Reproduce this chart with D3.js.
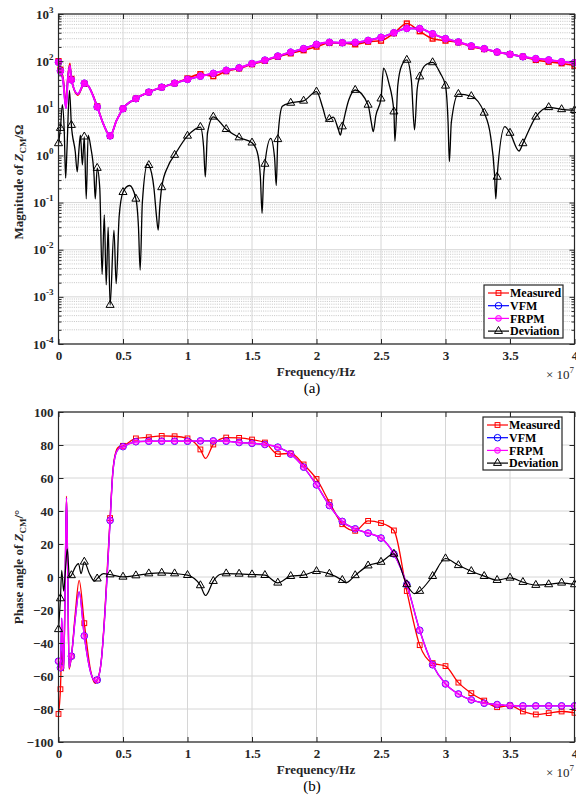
<!DOCTYPE html>
<html>
<head>
<meta charset="utf-8">
<script src="https://cdn.jsdelivr.net/npm/d3@7"></script>
<style>
  body { margin: 0; background: #fff; }
  svg text { font-family: "Liberation Serif", "Times New Roman", serif; }
</style>
</head>
<body>
<svg id="chart"></svg>
<script>
// frequency in MHz (axis shows x 10^7 Hz)
const xTicks = [0, 5, 10, 15, 20, 25, 30, 35, 40];
const xTickLabels = ['0', '0.5', '1', '1.5', '2', '2.5', '3', '3.5', '4'];
const magExponents = [-4, -3, -2, -1, 0, 1, 2, 3];
const phaseTicks = [-100, -80, -60, -40, -20, 0, 20, 40, 60, 80, 100];
const markerFreqs = [0, 0.15, 1, 2, 3, 4, 5, 6, 7, 8, 9, 10, 11, 12, 13, 14, 15, 16, 17, 18, 19, 20,
  21, 22, 23, 24, 25, 26, 27, 28, 29, 30, 31, 32, 33, 34, 35, 36, 37, 38, 39, 40];

// (a) magnitude, ohm
const magMeasured = [[0, 100], [0.15, 66], [0.35, 45], [0.58, 13], [0.72, 45], [0.88, 90], [1, 42], [1.5, 19],
  [2, 33], [2.3, 30], [3, 11], [3.5, 4.5], [4, 2.6], [4.5, 5.5], [5, 9.8], [6, 16], [7, 22], [8, 28], [9, 34],
  [10, 43], [11, 53], [12, 48], [13, 61], [14, 70], [15, 86], [16, 102], [17, 124], [18, 146], [19, 170],
  [20, 203], [21, 243], [22, 243], [23, 227], [24, 258], [25, 271], [26, 390], [27, 630], [28, 430], [29, 300],
  [30, 272], [31, 250], [32, 203], [33, 180], [34, 155], [35, 140], [36, 124], [37, 106], [38, 97], [39, 90], [40, 80]];
const magVFM = [[0, 95], [0.15, 62], [0.35, 40], [0.58, 10], [0.72, 40], [0.88, 80], [1, 40], [1.5, 20],
  [2, 34], [2.3, 30], [3, 10.7], [3.5, 4.5], [4, 2.6], [4.5, 5.5], [5, 9.8], [6, 16], [7, 22], [8, 28], [9, 34],
  [10, 41], [11, 48], [12, 55], [13, 64], [14, 72], [15, 89], [16, 105], [17, 128], [18, 155], [19, 184],
  [20, 227], [21, 251], [22, 246], [23, 250], [24, 275], [25, 320], [26, 400], [27, 495], [28, 490], [29, 380],
  [30, 300], [31, 255], [32, 210], [33, 184], [34, 156], [35, 140], [36, 124], [37, 113], [38, 106], [39, 97], [40, 93]];
const magFRPM = [[0, 95], [0.15, 62], [0.35, 40], [0.58, 10], [0.72, 40], [0.88, 80], [1, 40], [1.5, 20],
  [2, 34], [2.3, 30], [3, 10.7], [3.5, 4.5], [4, 2.6], [4.5, 5.5], [5, 9.8], [6, 16], [7, 22], [8, 28], [9, 34],
  [10, 41], [11, 48], [12, 55], [13, 64], [14, 72], [15, 89], [16, 105], [17, 128], [18, 155], [19, 184],
  [20, 227], [21, 251], [22, 246], [23, 250], [24, 275], [25, 320], [26, 400], [27, 495], [28, 490], [29, 380],
  [30, 300], [31, 255], [32, 210], [33, 184], [34, 156], [35, 140], [36, 124], [37, 113], [38, 106], [39, 97], [40, 93]];
const magDeviation = [[0, 1.8], [0.15, 3.8], [0.3, 12], [0.45, 3], [0.55, 0.33], [0.65, 1.2], [0.85, 24], [1, 4.4],
  [1.3, 1.2], [1.45, 0.45], [1.6, 1.5], [1.7, 2.7], [1.85, 0.63], [2, 2.5], [2.15, 0.12], [2.3, 2.7], [2.5, 1.5],
  [2.75, 0.4], [2.85, 0.12], [3, 0.54], [3.2, 0.2], [3.38, 0.003], [3.55, 0.055], [3.7, 0.0018], [3.85, 0.03],
  [4, 0.00067], [4.3, 0.026], [4.47, 0.0019], [4.7, 0.05], [5, 0.166], [5.5, 0.23], [6, 0.12], [6.2, 0.03],
  [6.33, 0.0037], [6.5, 0.1], [6.9, 0.65], [7, 0.62], [7.4, 0.2], [7.6, 0.05], [7.73, 0.026], [7.85, 0.08],
  [8, 0.21], [8.5, 0.6], [9, 1.02], [10, 2.6], [11, 4.0], [11.25, 1.5], [11.38, 0.35], [11.55, 3], [12, 6.6],
  [13, 3.6], [14, 2.4], [15, 1.86], [15.4, 1.2], [15.65, 0.35], [15.78, 0.059], [15.9, 0.35], [16, 0.66],
  [16.45, 2.3], [16.75, 0.9], [16.88, 0.23], [17, 2.2], [17.35, 11], [18, 13], [19, 14.4], [20, 22.5],
  [20.5, 10], [20.8, 5.6], [21, 5.9], [21.3, 6.5], [21.7, 3.5], [21.85, 2.7], [22, 4.1], [22.5, 15], [23, 24.4],
  [24, 11.8], [24.25, 5], [24.4, 3.2], [24.6, 7], [25, 16], [25.2, 71], [25.6, 35], [26, 8.5], [26.08, 2],
  [26.3, 30], [26.6, 80], [27, 106], [27.35, 40], [27.6, 3.5], [27.8, 25], [28, 47], [28.5, 85], [29, 94],
  [29.6, 55], [30, 30], [30.2, 5], [30.3, 0.74], [30.45, 5], [31, 20], [32, 18], [33, 8], [33.5, 2.5],
  [33.8, 0.4], [33.9, 0.12], [34, 0.35], [34.6, 4.1], [35, 3.0], [35.7, 1.24], [36, 1.8], [37, 6.6],
  [38, 10.5], [39, 9.5], [40, 9.1]];

// (b) phase angle, degree
const phMeasured = [[0, -83], [0.15, -68], [0.25, -45], [0.4, -57], [0.52, 0], [0.62, 49], [0.72, 0], [0.82, -56],
  [1, -48], [1.3, -22], [1.6, -2], [2, -28], [2.5, -57], [2.85, -64.5], [3, -62.4], [3.3, -52], [3.6, -20],
  [3.8, 8], [4, 35.7], [4.2, 63], [4.45, 76], [4.7, 79], [5, 79.5], [6, 84], [7, 84.7], [8, 85.5], [9, 85.3],
  [10, 84], [11, 77.3], [11.4, 71.9], [12, 80.3], [13, 84.5], [14, 84.3], [15, 83.3], [16, 81.5], [17, 74.5],
  [18, 74.9], [19, 68.2], [20, 59.4], [21, 45.3], [22, 32], [23, 28], [24, 34], [25, 32.7], [26, 28.2],
  [27, -8.5], [28, -41.3], [29, -52.2], [30, -54], [31, -64], [32, -70.4], [33, -74.9], [34, -78.9],
  [35, -77.9], [36, -81.5], [37, -83.3], [38, -82.5], [39, -81.5], [40, -82.3]];
const phVFM = [[0, -51], [0.15, -55], [0.25, -25], [0.4, -56], [0.52, 0], [0.62, 48], [0.72, 0], [0.82, -55],
  [1, -48], [1.3, -25], [1.6, -9], [2, -35.7], [2.5, -58], [2.85, -63], [3, -62.4], [3.3, -52], [3.6, -22],
  [3.8, 5], [4, 34.3], [4.2, 62], [4.45, 75], [4.7, 78], [5, 79], [6, 82], [7, 82.3], [8, 82.3], [9, 82.3],
  [10, 82.3], [11, 82.5], [12, 82.5], [13, 82.3], [14, 81.5], [15, 81], [16, 80.3], [17, 78.7], [18, 74.5],
  [19, 66.6], [20, 55.8], [21, 43.3], [22, 33.7], [23, 29.2], [24, 26.6], [25, 23.6], [26, 14], [27, -4.5],
  [28, -32.3], [29, -53.2], [30, -64.8], [31, -70.9], [32, -74.5], [33, -76.5], [34, -77.3], [35, -77.9],
  [36, -78.1], [37, -78.1], [38, -78.1], [39, -78.1], [40, -78.1]];
const phFRPM = [[0, -51], [0.15, -55], [0.25, -25], [0.4, -56], [0.52, 0], [0.62, 48], [0.72, 0], [0.82, -55],
  [1, -48], [1.3, -25], [1.6, -9], [2, -35.7], [2.5, -58], [2.85, -63], [3, -62.4], [3.3, -52], [3.6, -22],
  [3.8, 5], [4, 34.3], [4.2, 62], [4.45, 75], [4.7, 78], [5, 79], [6, 82], [7, 82.3], [8, 82.3], [9, 82.3],
  [10, 82.3], [11, 82.5], [12, 82.5], [13, 82.3], [14, 81.5], [15, 81], [16, 80.3], [17, 78.7], [18, 74.5],
  [19, 66.6], [20, 55.8], [21, 43.3], [22, 33.7], [23, 29.2], [24, 26.6], [25, 23.6], [26, 14], [27, -4.5],
  [28, -32.3], [29, -53.2], [30, -64.8], [31, -70.9], [32, -74.5], [33, -76.5], [34, -77.3], [35, -77.9],
  [36, -78.1], [37, -78.1], [38, -78.1], [39, -78.1], [40, -78.1]];
const phDeviation = [[0, -31.7], [0.15, -13], [0.25, 4], [0.4, -8.5], [0.52, 2], [0.68, 17], [0.85, 0], [1, 1],
  [1.3, 6], [1.55, 8.1], [1.75, 2], [2, 9.2], [2.4, 2], [2.8, -2.5], [3, -1], [3.5, 2], [4, 1.5], [5, 0.1],
  [6, 0.9], [7, 2.1], [8, 2.5], [9, 2.1], [10, 1.1], [11, -5.1], [11.4, -11.2], [12, -2.5], [12.5, 1.5],
  [13, 2.1], [14, 1.9], [15, 1.5], [16, 1.1], [17, -3.5], [18, 0.5], [19, 1.1], [20, 3.5], [21, 1.9],
  [22, -1.9], [22.3, -3.5], [23, 1], [24, 6.9], [25, 9.1], [26, 14], [27, -4.5], [27.6, -10.1], [28, -8.5],
  [29, 0.5], [30, 11.2], [31, 7.1], [32, 3.5], [33, 0.5], [34, -1.9], [35, -0.5], [36, -3.1], [37, -4.9],
  [38, -4.5], [39, -3.5], [40, -4.5]];

const seriesNames = ['Measured', 'VFM', 'FRPM', 'Deviation'];

const svg = d3.select('#chart').attr('width', 576).attr('height', 799);

const x = d3.scaleLinear().domain([0, 40]).range([58.5, 574.5]);
const yMag = d3.scaleLog().domain([1e-4, 1e3]).range([344, 14]);
const yPh = d3.scaleLinear().domain([-100, 100]).range([742, 412]);

const styles = {
  Measured: { color: '#ff0000', marker: 'square' },
  VFM: { color: '#0000ff', marker: 'circle' },
  FRPM: { color: '#ff00ff', marker: 'dot' },
  Deviation: { color: '#000000', marker: 'triangle' }
};

function drawMarker(sel, type, color, big) {
  if (type === 'square') {
    sel.append('rect').attr('x', -2.4).attr('y', -2.4).attr('width', 4.8).attr('height', 4.8)
      .attr('fill', 'none').attr('stroke', color).attr('stroke-width', big ? 1.4 : 1);
  } else if (type === 'circle') {
    sel.append('circle').attr('r', 3.3).attr('fill', 'none').attr('stroke', color).attr('stroke-width', 1);
  } else if (type === 'dot') {
    sel.append('circle').attr('r', big ? 3.2 : 2.9).attr('fill', color)
      .attr('fill-opacity', big ? 0.9 : 0.35).attr('stroke', color).attr('stroke-width', 1);
  } else {
    sel.append('path').attr('d', d3.symbol(d3.symbolTriangle, 28)())
      .attr('fill', 'none').attr('stroke', color).attr('stroke-width', 1);
  }
}

function drawPanel(o) {
  const g = svg.append('g');
  const [x0, x1] = x.range();
  const [yb, yt] = o.y.range();

  if (o.minor) {
    g.append('g').selectAll('line').data(o.minor).join('line')
      .attr('x1', x0).attr('x2', x1)
      .attr('y1', d => o.y(d)).attr('y2', d => o.y(d))
      .attr('stroke', '#b8b8b8').attr('stroke-width', 0.8).attr('stroke-dasharray', '1,1.2');
  }
  g.append('g').selectAll('line').data(o.yTicks).join('line')
    .attr('x1', x0).attr('x2', x1)
    .attr('y1', d => o.y(d)).attr('y2', d => o.y(d))
    .attr('stroke', '#d6d6d6').attr('stroke-width', 1);
  g.append('g').selectAll('line').data(xTicks).join('line')
    .attr('x1', d => x(d)).attr('x2', d => x(d))
    .attr('y1', yt).attr('y2', yb)
    .attr('stroke', '#d6d6d6').attr('stroke-width', 1);

  const line = d3.line()
    .x(d => x(d[0]))
    .y(d => o.y(d[1]))
    .curve(d3.curveMonotoneX);

  o.series.forEach((data, i) => {
    const st = styles[seriesNames[i]];
    g.append('path')
      .attr('d', line(data))
      .attr('fill', 'none')
      .attr('stroke', st.color)
      .attr('stroke-width', o.widths[i]);
    const pts = data.filter(d => markerFreqs.includes(d[0]));
    g.append('g').selectAll('g').data(pts).join('g')
      .attr('transform', d => `translate(${x(d[0])},${o.y(d[1])})`)
      .each(function () { drawMarker(d3.select(this), st.marker, st.color, o.big); });
  });

  // box and inward ticks
  const noDomain = s => s.select('.domain').remove();
  const bottom = g.append('g').attr('transform', `translate(0,${yb})`)
    .call(d3.axisBottom(x).tickValues(xTicks).tickSize(-5).tickPadding(7)
      .tickFormat((d, i) => xTickLabels[i]))
    .call(noDomain);
  bottom.selectAll('text').attr('font-size', 13).attr('font-weight', 'bold').attr('fill', '#262626')
    .style('font-family', '"Liberation Serif", serif');
  g.append('g').attr('transform', `translate(0,${yt})`)
    .call(d3.axisTop(x).tickValues(xTicks).tickSize(-5).tickFormat(''))
    .call(noDomain);

  const left = g.append('g').attr('transform', `translate(${x0},0)`)
    .call(d3.axisLeft(o.y).tickValues(o.yTicks).tickSize(-5).tickPadding(5)
      .tickFormat(o.log ? '' : d3.format('d')))
    .call(noDomain);
  left.selectAll('text').attr('font-size', 13).attr('font-weight', 'bold').attr('fill', '#262626')
    .style('font-family', '"Liberation Serif", serif');
  g.append('g').attr('transform', `translate(${x1},0)`)
    .call(d3.axisRight(o.y).tickValues(o.yTicks).tickSize(-5).tickFormat(''))
    .call(noDomain);
  if (o.minor) {
    g.append('g').attr('transform', `translate(${x0},0)`)
      .call(d3.axisLeft(o.y).tickValues(o.minor).tickSize(-3).tickFormat('')).call(noDomain);
    g.append('g').attr('transform', `translate(${x1},0)`)
      .call(d3.axisRight(o.y).tickValues(o.minor).tickSize(-3).tickFormat('')).call(noDomain);
  }
  g.selectAll('.tick line').attr('stroke', '#262626');

  if (o.log) {
    const lab = g.append('g').selectAll('text').data(magExponents).join('text')
      .attr('x', x0 - 5).attr('y', d => o.y(Math.pow(10, d)) + 4.5)
      .attr('text-anchor', 'end').attr('font-size', 13).attr('font-weight', 'bold').attr('fill', '#262626');
    lab.append('tspan').text('10');
    lab.append('tspan').attr('dy', -6).attr('font-size', 9).text(d => d);
  }

  g.append('rect').attr('x', x0).attr('y', yt).attr('width', x1 - x0).attr('height', yb - yt)
    .attr('fill', 'none').attr('stroke', '#262626').attr('stroke-width', 1.2);

  // y label
  const yl = g.append('text')
    .attr('transform', `translate(23,${o.ylabelY}) rotate(-90)`)
    .attr('text-anchor', 'middle').attr('font-size', 13).attr('font-weight', 'bold').attr('fill', '#262626');
  yl.append('tspan').text(o.ylabel[0]);
  yl.append('tspan').attr('font-style', 'italic').text('Z');
  yl.append('tspan').attr('font-size', 9).attr('dy', 3).text('CM');
  yl.append('tspan').attr('dy', -3).text(o.ylabel[1]);

  // x label, exponent, panel tag
  g.append('text').attr('x', 316).attr('y', yb + 32).attr('text-anchor', 'middle')
    .attr('font-size', 13).attr('font-weight', 'bold').attr('fill', '#262626').text('Frequency/Hz');
  const ex = g.append('text').attr('x', 546).attr('y', yb + 35).attr('font-size', 13).attr('fill', '#262626');
  ex.append('tspan').text('\u00d7 10');
  ex.append('tspan').attr('dy', -6).attr('font-size', 9).text('7');
  g.append('text').attr('x', 312).attr('y', yb + 49).attr('text-anchor', 'middle')
    .attr('font-size', 15).attr('fill', '#000').text(o.tag);

  // legend
  const lg = g.append('g').attr('transform', `translate(${o.legend[0]},${o.legend[1]})`);
  lg.append('rect').attr('width', 79).attr('height', 53).attr('fill', '#fff')
    .attr('stroke', '#262626').attr('stroke-width', 1.2);
  seriesNames.forEach((name, i) => {
    const st = styles[name];
    const row = lg.append('g').attr('transform', `translate(0,${8 + i * 12.7})`);
    row.append('line').attr('x1', 4).attr('x2', 25).attr('stroke', st.color).attr('stroke-width', 1.2);
    drawMarker(row.append('g').attr('transform', 'translate(14.5,0)'), st.marker, st.color, false);
    row.append('text').attr('x', 26).attr('y', 4.3).attr('font-size', 12).attr('font-weight', 'bold')
      .attr('fill', '#000').text(name);
  });
}

const decades = magExponents.map(e => Math.pow(10, e));
const minorMag = yMag.ticks().filter(v => !decades.some(d => Math.abs(d - v) / d < 1e-9));

drawPanel({
  y: yMag, log: true, yTicks: decades, minor: minorMag,
  series: [magMeasured, magVFM, magFRPM, magDeviation],
  widths: [1.6, 1.6, 1.9, 1.3], big: true,
  ylabel: ['Magnitude of ', '/\u03a9'], ylabelY: 182, tag: '(a)', legend: [484, 285]
});
drawPanel({
  y: yPh, log: false, yTicks: phaseTicks, minor: null,
  series: [phMeasured, phVFM, phFRPM, phDeviation],
  widths: [1.3, 1.3, 1.4, 1.2], big: false,
  ylabel: ['Phase angle of ', '/\u00b0'], ylabelY: 567, tag: '(b)', legend: [483, 417]
});
</script>
</body>
</html>
